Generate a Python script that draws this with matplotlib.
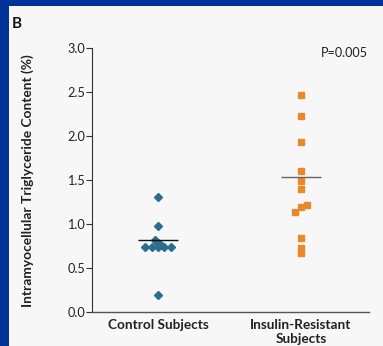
import matplotlib
matplotlib.use("Agg")
import matplotlib.pyplot as plt
from matplotlib.patches import Rectangle

plt.rcParams['font.family'] = ['Lato', 'DejaVu Sans']

categories = ["Control Subjects", "Insulin-Resistant\nSubjects"]
control_values = [1.31, 0.98, 0.82, 0.78, 0.76, 0.74, 0.74, 0.74, 0.74, 0.74, 0.19]
insulin_values = [2.47, 2.23, 1.93, 1.60, 1.49, 1.40, 1.22, 1.19, 1.14, 0.84, 0.73, 0.67]
group_lines = [0.815, 1.53]
p_text = "P=0.005"
y_ticks = [0.0, 0.5, 1.0, 1.5, 2.0, 2.5, 3.0]
y_label = "Intramyocellular Triglyceride Content (%)"

# horizontal swarm slots (layout only)
control_slots = [0, 0, -0.5, 0, 0.5, -2, -1, 0, 1, 2, 0]
insulin_slots = [0, 0, 0, 0, 0, 0, 1, 0, -1, 0, 0, 0]
slot_w = 0.045

W, H = 383, 346
fig = plt.figure(figsize=(W / 100, H / 100), dpi=100)
fig.patch.set_facecolor('#f7f7f7')
fig.add_artist(Rectangle((0, 0), 9 / W, 1, transform=fig.transFigure,
                         facecolor='#003399', edgecolor='none', zorder=0))
fig.add_artist(Rectangle((0, 1 - 6 / H), 1, 6 / H, transform=fig.transFigure,
                         facecolor='#003399', edgecolor='none', zorder=0))

ax = fig.add_axes([92 / W, 1 - 312 / H, (369 - 92) / W, (312 - 48) / H])
ax.set_facecolor('none')

teal = '#2c6f8c'
orange = '#e8892c'
ax.plot([0 + s * slot_w for s in control_slots], control_values, 'D', ms=3.8,
        color=teal, mec=teal, zorder=3, clip_on=False)
ax.plot([1 + s * slot_w for s in insulin_slots], insulin_values, 's', ms=4.2,
        color=orange, mec=orange, zorder=3, clip_on=False)
ax.hlines(group_lines[0], -0.14, 0.14, color='#111111', lw=1.0, zorder=4)
ax.hlines(group_lines[1], 1 - 0.14, 1 + 0.14, color='#666666', lw=1.0, zorder=4)

ax.set_xlim(-0.4615, 1.4755)
ax.set_ylim(0, 3.0)
ax.set_yticks(y_ticks)
ax.set_yticklabels([f"{t:.1f}" for t in y_ticks], fontsize=9.2, color='#222222')
ax.set_xticks([0, 1])
ax.set_xticklabels(categories, fontsize=9.8, fontweight='bold', color='#222222',
                   linespacing=1.25)
ax.tick_params(axis='x', length=0, pad=5)
ax.tick_params(axis='y', length=4.3, width=0.8, pad=0.8, color='#333333')
for s in ['top', 'right']:
    ax.spines[s].set_visible(False)
ax.spines['left'].set_color('#333333')
ax.spines['left'].set_linewidth(0.8)
ax.spines['bottom'].set_color('#555555')
ax.spines['bottom'].set_linewidth(1.0)

fig.text(28 / W, 1 - 181 / H, y_label, rotation=90, ha='center', va='center',
         fontsize=9.9, fontweight='bold', color='#222222')
fig.text(12 / W, 1 - 24.5 / H, "B", ha='left', va='center', fontsize=11,
         fontweight='bold', color='#111111')
fig.text(368 / W, 1 - 53 / H, p_text, ha='right', va='center', fontsize=9.1,
         color='#222222')

fig.savefig("out.png", dpi=100, facecolor=fig.get_facecolor())
